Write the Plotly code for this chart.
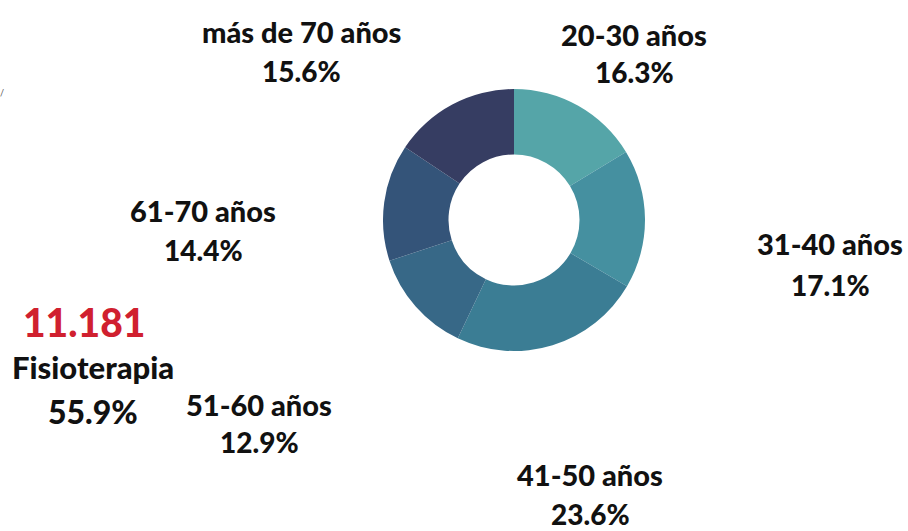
import plotly.graph_objects as go

# Data
categories = ["20-30 años", "31-40 años", "41-50 años", "51-60 años", "61-70 años", "más de 70 años"]
percent_labels = ["16.3%", "17.1%", "23.6%", "12.9%", "14.4%", "15.6%"]
values = [16.3, 17.1, 23.6, 12.9, 14.4, 15.6]
total_count = "11.181"
total_label = "Fisioterapia"
total_percent = "55.9%"

# Styles
colors = ["#55A5A8", "#4590A0", "#3B7D94", "#376887", "#345479", "#363D62"]
W, H = 908, 531
# label centres in pixels (x, name line y, percent line y)
label_pos = [(634, 34, 72), (830, 243, 285), (590, 474, 514),
             (259, 404, 442), (203, 211, 250), (301, 32, 71)]

cx, cy, r = 514, 220, 131

def px(x):
    return x / W

def py(y):
    return 1 - y / H

fig = go.Figure(go.Pie(
    labels=categories,
    values=values,
    hole=0.5,
    sort=False,
    direction="clockwise",
    rotation=0,
    marker=dict(colors=colors, line=dict(width=0)),
    textinfo="none",
    hoverinfo="label+percent",
    domain=dict(x=[px(cx - r), px(cx + r)], y=[py(cy + r), py(cy - r)]),
    showlegend=False,
))

FONT = "Lato"
ann = []
for cat, pct, (x, y1, y2) in zip(categories, percent_labels, label_pos):
    ann.append(dict(x=px(x), y=py(y1), text=cat, showarrow=False,
                    xref="paper", yref="paper", xanchor="center", yanchor="middle",
                    font=dict(family=FONT, size=29, weight=900, color="#111111")))
    ann.append(dict(x=px(x), y=py(y2), text=pct, showarrow=False,
                    xref="paper", yref="paper", xanchor="center", yanchor="middle",
                    font=dict(family=FONT, size=28, weight=900, color="#111111")))

ann.append(dict(x=px(84), y=py(322), text=total_count, showarrow=False,
                xref="paper", yref="paper", xanchor="center", yanchor="middle",
                font=dict(family=FONT, size=39, weight=900, color="#D0202F")))
ann.append(dict(x=px(93), y=py(367), text=total_label, showarrow=False,
                xref="paper", yref="paper", xanchor="center", yanchor="middle",
                font=dict(family=FONT, size=31, weight=900, color="#111111")))
ann.append(dict(x=px(93), y=py(411), text=total_percent, showarrow=False,
                xref="paper", yref="paper", xanchor="center", yanchor="middle",
                font=dict(family=FONT, size=32, weight=900, color="#111111")))
ann.append(dict(x=px(2), y=py(92), text="/", showarrow=False,
                xref="paper", yref="paper", xanchor="center", yanchor="middle",
                font=dict(family=FONT, size=9, color="#555555")))

fig.update_layout(
    width=W, height=H,
    margin=dict(l=0, r=0, t=0, b=0),
    paper_bgcolor="white",
    plot_bgcolor="white",
    annotations=ann,
)

fig.write_html("out.html",
               config={"displayModeBar": False},
               post_script="document.body.style.margin='0';document.body.style.overflow='hidden';")
